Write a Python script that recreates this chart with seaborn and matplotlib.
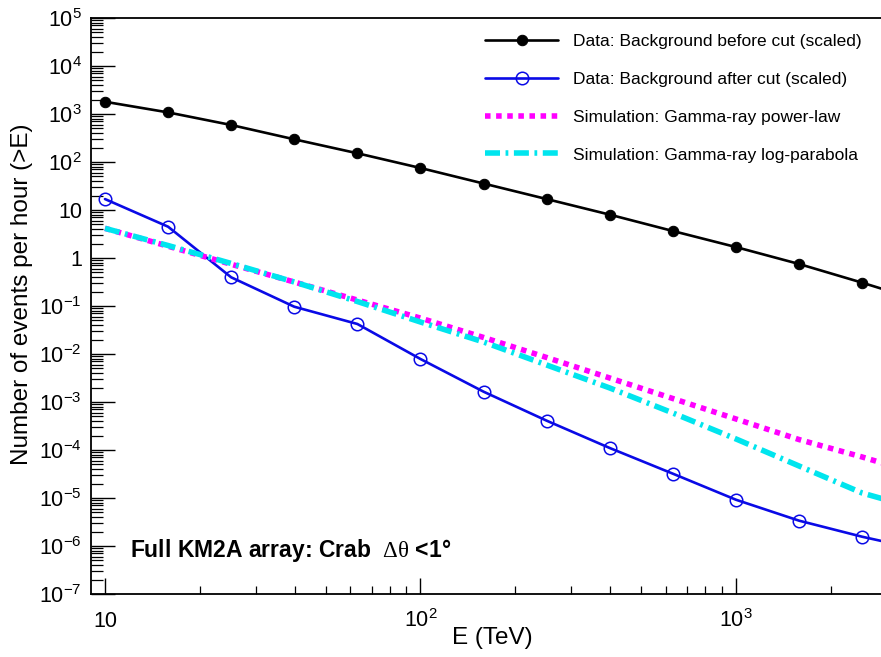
import matplotlib
matplotlib.use("Agg")
import matplotlib.pyplot as plt
import seaborn as sns

# Energy thresholds (TeV), 0.2 dex steps; last point lies just beyond the frame
energy = [10, 15.85, 25.12, 39.81, 63.1, 100, 158.5, 251.2, 398.1, 631, 1000, 1585, 2512, 3981]

# Events per hour (>E)
bkg_before = [1800, 1080, 590, 297, 152, 75, 35.6, 16.9, 8.0, 3.65, 1.69, 0.75, 0.306, 0.12]
bkg_after = [16.9, 4.49, 0.396, 0.0966, 0.0422, 0.00787, 1.64e-3, 4.08e-4, 1.10e-4,
             3.21e-5, 9.2e-6, 3.37e-6, 1.56e-6, 8.0e-7]
sim_powerlaw = [4.15, 1.76, 0.74, 0.316, 0.133, 0.056, 0.0221, 8.45e-3, 3.16e-3,
                1.18e-3, 4.43e-4, 1.65e-4, 7.15e-5, 2.9e-5]
sim_logparabola = [4.15, 1.82, 0.77, 0.316, 0.124, 0.0464, 0.0178, 5.9e-3, 1.96e-3,
                   5.9e-4, 1.7e-4, 4.64e-5, 1.27e-5, 5.4e-6]

labels = ["Data: Background before cut (scaled)",
          "Data: Background after cut (scaled)",
          "Simulation: Gamma-ray power-law",
          "Simulation: Gamma-ray log-parabola"]

x_ticks = [10, 100, 1000]
x_ticklabels = ["10", "$10^{2}$", "$10^{3}$"]
y_ticks = [1e-7, 1e-6, 1e-5, 1e-4, 1e-3, 1e-2, 1e-1, 1, 10, 1e2, 1e3, 1e4, 1e5]
y_ticklabels = ["$10^{-7}$", "$10^{-6}$", "$10^{-5}$", "$10^{-4}$", "$10^{-3}$",
                "$10^{-2}$", "$10^{-1}$", "1", "10", "$10^{2}$", "$10^{3}$",
                "$10^{4}$", "$10^{5}$"]

sns.set_style("white")
plt.rcParams["font.family"] = ["Liberation Sans", "DejaVu Sans"]
plt.rcParams["mathtext.fontset"] = "custom"
plt.rcParams["mathtext.rm"] = "Liberation Sans"
plt.rcParams["mathtext.it"] = "Liberation Sans:italic"
plt.rcParams["mathtext.bf"] = "Liberation Sans:bold"
plt.rcParams["mathtext.sf"] = "Liberation Serif"
for key in ["text.color", "axes.labelcolor", "xtick.color", "ytick.color"]:
    plt.rcParams[key] = "black"

fig = plt.figure(figsize=(8.81, 6.57), dpi=100)
ax = fig.add_axes([91 / 881, 63 / 657, 790 / 881, 576 / 657])

sns.lineplot(x=energy, y=bkg_before, ax=ax, color="black", lw=1.9, marker="o",
             markersize=7.5, mec="black", mfc="black", label=labels[0])
sns.lineplot(x=energy, y=bkg_after, ax=ax, color="#0a0ae6", lw=1.9, marker="o",
             markersize=9, mec="#0a0ae6", mfc="none", mew=1.1, label=labels[1])
sns.lineplot(x=energy, y=sim_powerlaw, ax=ax, color="#ff00ff", lw=4,
             linestyle=(0, (1, 1)), label=labels[2])
sns.lineplot(x=energy, y=sim_logparabola, ax=ax, color="#00e5ee", lw=4,
             linestyle=(0, (2.7, 1, 0.5, 1)), label=labels[3])

ax.set_xscale("log")
ax.set_yscale("log")
ax.set_xlim(9.03, 2882)
ax.set_ylim(1e-7, 1e5)

ax.set_xticks(x_ticks)
ax.set_xticklabels(x_ticklabels)
ax.set_yticks(y_ticks)
ax.set_yticklabels(y_ticklabels)
ax.xaxis.set_minor_locator(matplotlib.ticker.LogLocator(base=10, subs=range(2, 10), numticks=20))
ax.yaxis.set_minor_locator(matplotlib.ticker.LogLocator(base=10, subs=range(2, 10), numticks=40))
ax.xaxis.set_minor_formatter(matplotlib.ticker.NullFormatter())
ax.yaxis.set_minor_formatter(matplotlib.ticker.NullFormatter())

ax.tick_params(axis="y", which="major", direction="in", length=17, width=1.0,
               labelsize=15.5, pad=6.5, left=True, right=False)
ax.tick_params(axis="y", which="minor", direction="in", length=8.5, width=0.9, left=True, right=False)
ax.tick_params(axis="x", which="major", direction="in", length=11.5, width=1.0,
               labelsize=15.5, pad=24, bottom=True, top=False)
ax.tick_params(axis="x", which="minor", direction="in", length=5.8, width=0.9, bottom=True, top=False)
for lab in ax.get_xticklabels():
    lab.set_va("baseline")

for side in ["left", "bottom", "top"]:
    ax.spines[side].set_color("black")
    ax.spines[side].set_linewidth(1.3)
ax.spines["right"].set_visible(False)

ax.set_xlabel("E (TeV)", fontsize=17.5)
ax.xaxis.set_label_coords(0.508, -0.058)
ax.set_ylabel("Number of events per hour (>E)", fontsize=17.5)
ax.yaxis.set_label_coords(-0.073, 0.52)

ax.text(0.049, 0.076, r"Full KM2A array: Crab  $\mathsf{\Delta\theta}$ <1°",
        transform=ax.transAxes, fontsize=16.5, fontweight="bold", va="center", ha="left")

ax.legend(loc="upper right", bbox_to_anchor=(0.991, 0.993), frameon=False, fontsize=12.5,
          handlelength=4.2, handletextpad=0.85, labelspacing=1.3, borderaxespad=0.3)

fig.savefig("out.png", dpi=100)
